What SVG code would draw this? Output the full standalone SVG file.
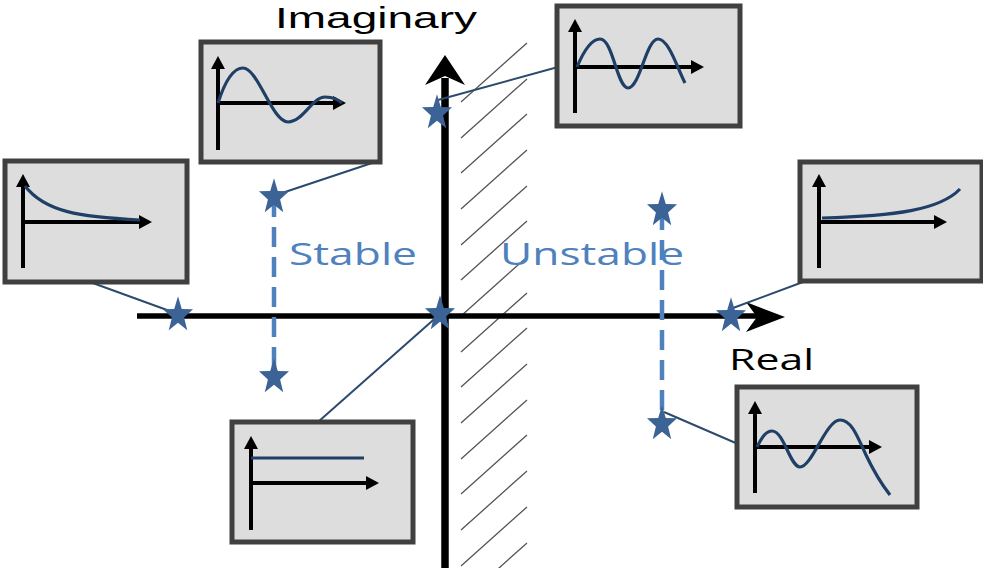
<svg xmlns="http://www.w3.org/2000/svg" xmlns:xlink="http://www.w3.org/1999/xlink" width="983" height="568" viewBox="0 0 983 568">
<style>
.box{fill:#dddddd;stroke:#404040;stroke-width:5}
.ax{stroke:#000;stroke-width:4;fill:none}
.cv{stroke:#1f3f66;stroke-width:3.2;fill:none}
.con{stroke:#2c4a6e;stroke-width:2;fill:none}
.dash{stroke:#4f81bd;stroke-width:4.5;stroke-dasharray:20 10;fill:none}
.hatch{stroke:#555;stroke-width:1.3}
.star{fill:#3b6395}
.lbl{font-family:"Open Sans","Liberation Sans",sans-serif;font-size:31px;fill:#000}
.blue{fill:#4f81bd}
</style>
<defs>
<marker id="ah" viewBox="0 0 13 14" refX="1" refY="7" markerWidth="13" markerHeight="14" markerUnits="userSpaceOnUse" orient="auto">
<path d="M0,0 L13,7 L0,14 z" fill="#000"/>
</marker>
<path id="star" transform="scale(1.05,1.25)" d="M0,-15 L3.6,-4.9 L14.3,-4.6 L5.8,1.9 L8.8,12.1 L0,6.1 L-8.8,12.1 L-5.8,1.9 L-14.3,-4.6 L-3.6,-4.9 Z"/>
<clipPath id="clipH"><rect x="455" y="0" width="80" height="568"/></clipPath>
</defs>

<g id="hatching" clip-path="url(#clipH)">
<path class="hatch" d="M527,43 l-66,59 M527,79 l-66,59 M527,114 l-66,59 M527,150 l-66,59 M527,186 l-66,59 M527,221 l-66,59 M527,257 l-66,59 M527,293 l-66,59 M527,328 l-66,59 M527,364 l-66,59 M527,400 l-66,59 M527,435 l-66,59 M527,471 l-66,59 M527,507 l-66,59 M527,543 l-66,59"/>
</g>

<g id="axes">
<line x1="137" y1="316" x2="758" y2="316" stroke="#000" stroke-width="5.5"/>
<polygon points="785,317 746,302 757,317 746,332" fill="#000"/>
<line x1="445" y1="568" x2="445" y2="78" stroke="#000" stroke-width="7.5"/>
<polygon points="445,55 465,85 445,76 425,85" fill="#000"/>
</g>

<g id="labels">
<text x="275" y="28" textLength="202" lengthAdjust="spacingAndGlyphs" style="font-family:'Liberation Sans',Arial,sans-serif;font-size:30px;fill:#000">Imaginary</text>
<text class="lbl" x="729" y="370" textLength="85" lengthAdjust="spacingAndGlyphs" style="font-size:29px">Real</text>
<text class="lbl blue" x="289" y="265" textLength="128" lengthAdjust="spacingAndGlyphs">Stable</text>
<text class="lbl blue" x="500" y="265" textLength="184" lengthAdjust="spacingAndGlyphs">Unstable</text>
</g>

<g id="connectors">
<line class="dash" x1="274" y1="197" x2="274" y2="377"/>
<line class="dash" x1="662" y1="210" x2="662" y2="424"/>
<line class="con" x1="276" y1="195" x2="375" y2="162"/>
<line class="con" x1="90" y1="282" x2="178" y2="314"/>
<line class="con" x1="438" y1="100" x2="558" y2="67"/>
<line class="con" x1="733" y1="308" x2="803" y2="282"/>
<line class="con" x1="440" y1="314" x2="318" y2="422"/>
<line class="con" x1="664" y1="412" x2="738" y2="444"/>
</g>

<g id="poles">
<use href="#star" class="star" x="437" y="113"/>
<use href="#star" class="star" x="274" y="197"/>
<use href="#star" class="star" x="274" y="377"/>
<use href="#star" class="star" x="178" y="315"/>
<use href="#star" class="star" x="440" y="314"/>
<use href="#star" class="star" x="662" y="210"/>
<use href="#star" class="star" x="662" y="424"/>
<use href="#star" class="star" x="731" y="316"/>
</g>

<g id="box-damped">
<rect class="box" x="201" y="42" width="179" height="120"/>
<line class="ax" x1="218" y1="150" x2="218" y2="68" marker-end="url(#ah)"/>
<line class="ax" x1="216" y1="103" x2="334" y2="103" marker-end="url(#ah)"/>
<path class="cv" d="M218,103 C226,78 235,68 243,68 C258,68 272,122 288,122 C303,122 312,97 325,97 C334,97 338,100 342,103"/>
</g>

<g id="box-decay">
<rect class="box" x="5" y="161" width="182" height="121"/>
<line class="ax" x1="23" y1="268" x2="23" y2="186" marker-end="url(#ah)"/>
<line class="ax" x1="21" y1="222" x2="140" y2="222" marker-end="url(#ah)"/>
<path class="cv" d="M25,186 C45,212 80,217 140,220"/>
</g>

<g id="box-sustained">
<rect class="box" x="557" y="6" width="183" height="120"/>
<line class="ax" x1="575" y1="113" x2="575" y2="31" marker-end="url(#ah)"/>
<line class="ax" x1="573" y1="67" x2="692" y2="67" marker-end="url(#ah)"/>
<path class="cv" d="M577,67 C585,48 592,39 600,39 C613,39 617,88 628,88 C640,88 646,39 658,39 C669,39 678,70 685,83"/>
</g>

<g id="box-growth">
<rect class="box" x="800" y="162" width="182" height="119"/>
<line class="ax" x1="819" y1="268" x2="819" y2="186" marker-end="url(#ah)"/>
<line class="ax" x1="817" y1="222" x2="935" y2="222" marker-end="url(#ah)"/>
<path class="cv" d="M822,218 C895,216 940,210 960,189"/>
</g>

<g id="box-constant">
<rect class="box" x="232" y="422" width="181" height="120"/>
<line class="ax" x1="251" y1="530" x2="251" y2="448" marker-end="url(#ah)"/>
<line class="ax" x1="249" y1="483" x2="367" y2="483" marker-end="url(#ah)"/>
<line class="cv" x1="251" y1="458" x2="364" y2="458"/>
</g>

<g id="box-growing">
<rect class="box" x="737" y="387" width="180" height="120"/>
<line class="ax" x1="755" y1="493" x2="755" y2="413" marker-end="url(#ah)"/>
<line class="ax" x1="753" y1="447" x2="870" y2="447" marker-end="url(#ah)"/>
<path class="cv" d="M757,447 C762,437 766,431 772,431 C784,431 790,467 800,467 C812,467 826,420 840,420 C852,420 858,438 866,455 C875,474 883,486 890,495"/>
</g>
</svg>
